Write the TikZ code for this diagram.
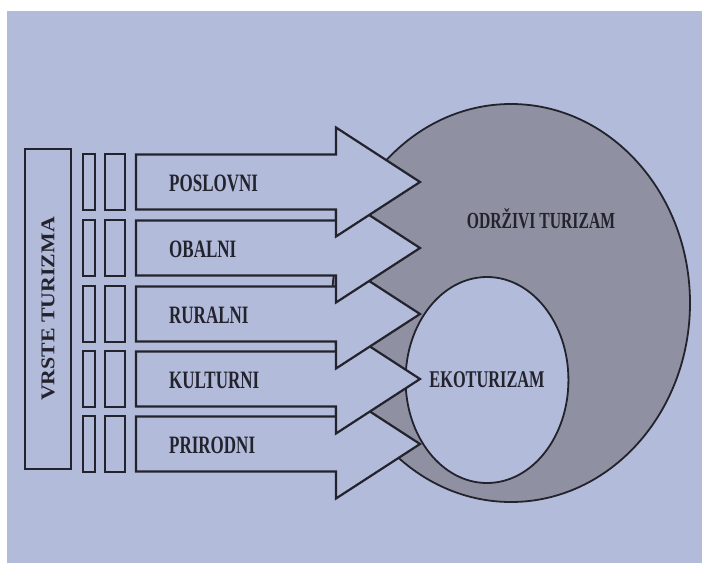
\documentclass[tikz,border=0pt]{standalone}
\usepackage{fontspec}
\setmainfont{Liberation Serif}
\newfontfamily\labfont[FakeStretch=0.68]{Liberation Serif}
\newfontfamily\vrfont[FakeStretch=1.12]{Liberation Serif}
\usetikzlibrary{shapes.geometric}
\definecolor{paper}{HTML}{B3BBDA}
\definecolor{disk}{HTML}{8F91A2}
\definecolor{ink}{HTML}{23232D}
\tikzset{
  outline/.style={draw=ink, line width=2.2pt, line join=miter},
  arrowshape/.style={outline, fill=paper},
  bar/.style={outline, fill=paper},
  lab/.style={font=\labfont\bfseries\fontsize{25}{25}\selectfont, text=ink, anchor=west, inner sep=0pt},
  ring/.style={ellipse, draw=ink, line width=1.8pt, inner sep=0pt},
}
\begin{document}
\begin{tikzpicture}[x=1pt, y=-1pt]
\useasboundingbox (0,0) rectangle (702,563);
\fill[white] (0,0) rectangle (702,563);
\fill[paper] (7,11) rectangle (702,563);
% sustainable tourism (big ellipse)
\node[ring, fill=disk, minimum width=358pt, minimum height=398pt] (odr) at (511,303) {};
\node[font=\labfont\bfseries\fontsize{23}{23}\selectfont, text=ink, inner sep=0pt] (odrlab) at (541,219) {ODRŽIVI TURIZAM};
% ecotourism (small ellipse)
\node[ring, fill=paper, minimum width=160pt, minimum height=206pt,
      font=\labfont\bfseries\fontsize{24}{24}\selectfont, text=ink] (eko) at (487,380) {EKOTURIZAM};
% VRSTE TURIZMA box
\node[outline, fill=paper, rotate=90, minimum width=320pt, minimum height=46pt, inner sep=0pt,
      font=\vrfont\bfseries\fontsize{19.5}{19.5}\selectfont, text=ink] (vrste) at (48,309) {VRSTE TURIZMA};
% arrows, drawn bottom to top so the upper ones lie above
\foreach \c/\t [count=\i] in {444/PRIRODNI,379/KULTURNI,314/RURALNI,248/OBALNI,182/POSLOVNI}{
  \draw[bar] (83,\c-28) rectangle (95,\c+28);
  \draw[bar] (105,\c-28) rectangle (125,\c+28);
  \draw[arrowshape] (136,\c-27.5) -- (336,\c-27.5) -- (336,\c-54.5) -- (420,\c)
        -- (336,\c+54.5) -- (336,\c+27.5) -- (136,\c+27.5) -- cycle;
  \node[lab] (lab\i) at (169,\c+1) {\t};
}
\end{tikzpicture}
\end{document}
